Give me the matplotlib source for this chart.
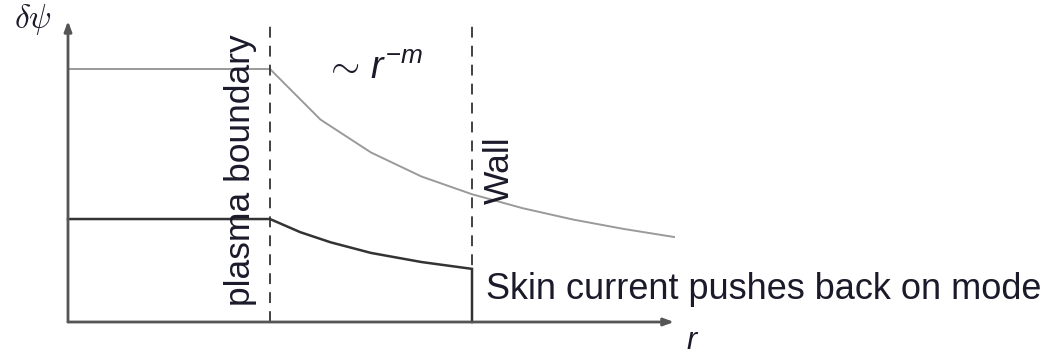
import matplotlib
matplotlib.use("Agg")
import matplotlib.pyplot as plt

# radius in units of the plasma radius, flux perturbation normalised to the edge value
r_boundary = 1.0
r_wall = 2.0
r_end = 3.0
y_top = 1.19

# vacuum solution with no wall (decays like r^-m outside the plasma)
r_free = [0.0, 1.0, 1.25, 1.5, 1.75, 2.0, 2.25, 2.5, 2.75, 3.0]
psi_free = [1.0, 1.0, 0.80, 0.67, 0.575, 0.505, 0.45, 0.405, 0.368, 0.336]

# with a conducting wall the perturbation is cut off at the wall
r_wall_case = [0.0, 1.0, 1.15, 1.3, 1.5, 1.75, 2.0, 2.0]
psi_wall_case = [0.407, 0.407, 0.355, 0.315, 0.273, 0.237, 0.21, 0.0]

plt.rcParams['mathtext.fontset'] = 'custom'
plt.rcParams['mathtext.rm'] = 'Liberation Sans'
plt.rcParams['mathtext.it'] = 'Liberation Sans:italic'
plt.rcParams['mathtext.bf'] = 'Liberation Sans:bold'

fig = plt.figure(figsize=(10.55, 3.61), dpi=100)
ax = fig.add_axes([0, 0, 1, 1])
ax.set_xlim(-68 / 202, (1055 - 68) / 202)
ax.set_ylim(-(361 - 322) / 253, 322 / 253)
ax.axis('off')

txt = '#1a1a2a'
axc = '#555555'

ax.plot(r_free, psi_free, color='#9a9a9a', lw=1.4, solid_joinstyle='miter')
ax.plot(r_wall_case, psi_wall_case, color='#333333', lw=1.8, solid_joinstyle='miter')

for rv in (r_boundary, r_wall):
    ax.plot([rv, rv], [0, y_top + 0.005], color='#333333', lw=1.3,
            dashes=(6, 4.5))

arrow = dict(arrowstyle='-|>,head_length=0.6,head_width=0.22', color=axc,
             lw=2.0, shrinkA=0, shrinkB=0)
ax.annotate('', xy=(r_end, 0), xytext=(0, 0), arrowprops=arrow)
ax.annotate('', xy=(0, y_top), xytext=(0, 0), arrowprops=arrow)

ax.text(-0.175, 1.195, r'$\delta\psi$', fontsize=24, color=txt,
        math_fontfamily='cm', ha='center', va='center')
ax.text(3.09, -0.072, r'$r$', fontsize=22, color=txt, ha='center', va='center')
ax.text(0.855, 0.6, 'plasma boundary', family='Liberation Sans', fontsize=25.5,
        color=txt, rotation=90, ha='center', va='center')
ax.text(2.135, 0.6, 'Wall', family='Liberation Sans', fontsize=25.5,
        color=txt, rotation=90, ha='center', va='center')
ax.text(1.51, 1.0, r'$\sim\,r^{-m}$', fontsize=27, color=txt,
        ha='center', va='center')
ax.text(2.07, 0.13, 'Skin current pushes back on mode', family='Liberation Sans',
        fontsize=26, color=txt, ha='left', va='center')

fig.savefig('out.png', dpi=100)
